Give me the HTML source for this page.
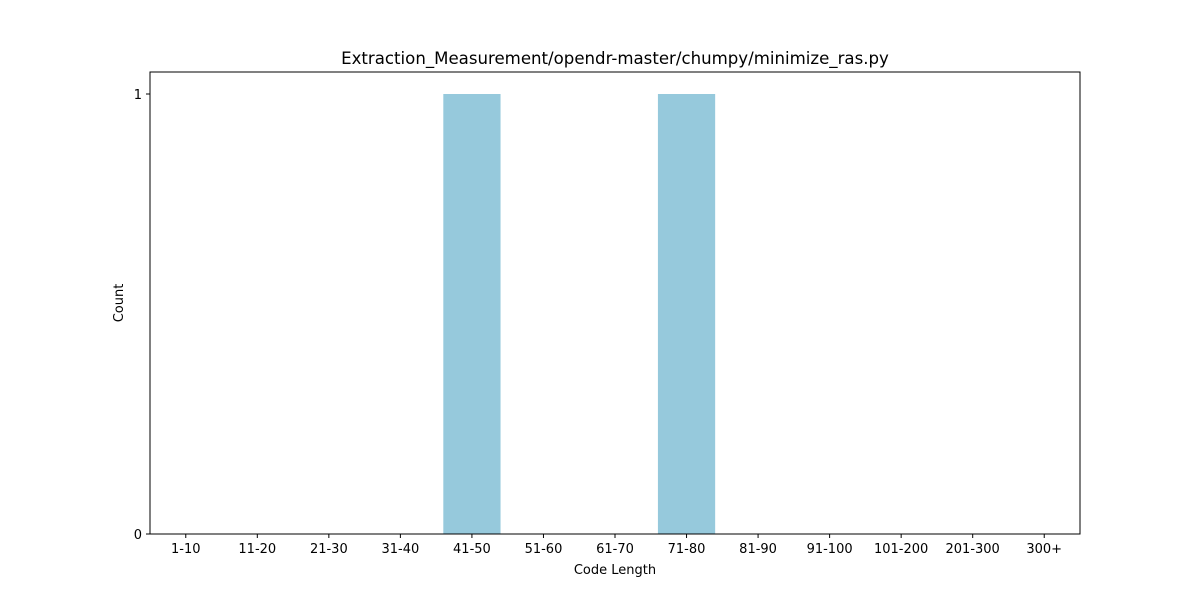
<!DOCTYPE html>
<html><head><meta charset="utf-8"><style>
body{margin:0;background:#fff;}
svg{display:block;font-family:"DejaVu Sans","Liberation Sans",sans-serif;}
</style></head><body>
<svg id="chart" width="1200" height="600">
<rect width="1200" height="600" fill="#fff"/>
<text x="615" y="64" text-anchor="middle" font-size="16.6">Extraction_Measurement/opendr-master/chumpy/minimize_ras.py</text>
<g id="bars"></g>
<g id="xticks"></g>
<g id="yticks"></g>
<rect x="150" y="72" width="930" height="462" fill="none" stroke="#000" stroke-width="1"/>
<text x="615" y="574" text-anchor="middle" font-size="13">Code Length</text>
<text transform="translate(123,303) rotate(-90)" text-anchor="middle" font-size="13">Count</text>
</svg>
<script>
const categories=["1-10","11-20","21-30","31-40","41-50","51-60","61-70","71-80","81-90","91-100","101-200","201-300","300+"];
const counts=[0,0,0,0,1,0,0,1,0,0,0,0,0];
const yTicks=[0,1];
const NS="http://www.w3.org/2000/svg";
const L=150,R=1080,T=72,B=534,yMax=1.05;
const step=(R-L)/categories.length;
const xs=i=>L+step*(i+0.5);
const ys=v=>B-(v/yMax)*(B-T);
const bars=document.getElementById('bars'),xt=document.getElementById('xticks'),yt=document.getElementById('yticks');
function mk(t,a){const e=document.createElementNS(NS,t);for(const k in a)e.setAttribute(k,a[k]);return e;}
categories.forEach((c,i)=>{
  const w=step*0.8,h=B-ys(counts[i]);
  if(counts[i]>0){
    const r=mk('rect',{x:xs(i)-w/2,y:ys(counts[i]),width:w,height:h,fill:'#96c9dc'});
    
    
    bars.appendChild(r);
  }
  const tk=mk('line',{x1:xs(i),x2:xs(i),y1:B,y2:B+4,stroke:'#000'});
  
  
  xt.appendChild(tk);
  const tx=mk('text',{x:xs(i),y:B+19,'text-anchor':'middle','font-size':'13'});
  tx.textContent=c;
  
  
  xt.appendChild(tx);
});
yTicks.forEach(v=>{
  const tk=mk('line',{x1:L-4,x2:L,y1:ys(v),y2:ys(v),stroke:'#000'});
  
  
  yt.appendChild(tk);
  const tx=mk('text',{x:L-8,y:ys(v)+5,'text-anchor':'end','font-size':'13'});
  tx.textContent=v;
  
  
  yt.appendChild(tx);
});
</script>
</body></html>
